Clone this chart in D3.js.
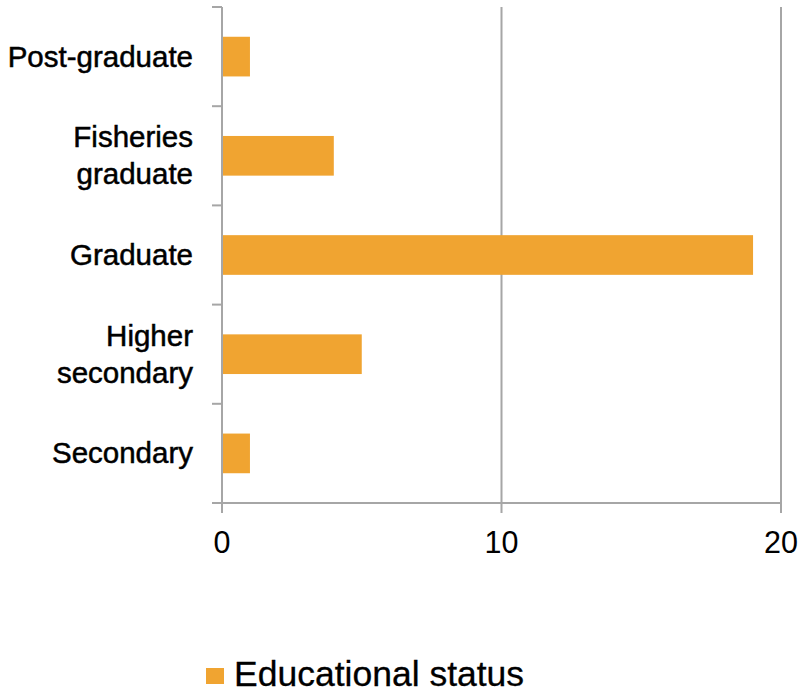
<!DOCTYPE html>
<html><head><meta charset="utf-8">
<script src="https://cdn.jsdelivr.net/npm/d3@7"></script>
<style>body{margin:0;background:#fff}</style>
</head><body>
<svg id="c" width="803" height="693"></svg>
<script>
const categories = ["Post-graduate", "Fisheries graduate", "Graduate", "Higher secondary", "Secondary"];
const categoryLines = [["Post-graduate"], ["Fisheries", "graduate"], ["Graduate"], ["Higher", "secondary"], ["Secondary"]];
const values = [1, 4, 19, 5, 1];
const xTicks = [0, 10, 20];
const seriesName = "Educational status";

(function () {
const barColor = "#F0A431";
const gridColor = "#a6a6a6";
const font = "Liberation Sans, Arial, sans-serif";

const svg = d3.select("#c");
const mLeft = 222, mRight = 781, mTop = 7, mBottom = 503;
const x = d3.scaleLinear().domain([0, 20]).range([mLeft, mRight]);
const y = d3.scaleBand().domain(categories).range([mTop, mBottom]).paddingInner(0.6).paddingOuter(0.3);
const yTicks = d3.scaleBand().domain(categories).range([mTop, mBottom]);

// gridlines
svg.append("g").selectAll("line").data(xTicks.filter(d => d > 0)).join("line")
  .attr("x1", d => x(d)).attr("x2", d => x(d)).attr("y1", mTop).attr("y2", mBottom + 10)
  .attr("stroke", gridColor).attr("stroke-width", 2);

// bars
svg.append("g").selectAll("rect").data(values).join("rect")
  .attr("x", x(0)).attr("y", (d, i) => y(categories[i]))
  .attr("width", d => x(d) - x(0)).attr("height", y.bandwidth())
  .attr("fill", barColor);

// axes lines
svg.append("line").attr("x1", mLeft).attr("x2", mLeft).attr("y1", mTop).attr("y2", mBottom + 10)
  .attr("stroke", gridColor).attr("stroke-width", 2);
svg.append("line").attr("x1", mLeft - 10).attr("x2", mRight).attr("y1", mBottom).attr("y2", mBottom)
  .attr("stroke", gridColor).attr("stroke-width", 2);
const bounds = categories.map(c => yTicks(c)).concat([mBottom]);
svg.append("g").selectAll("line").data(bounds).join("line")
  .attr("x1", mLeft - 10).attr("x2", mLeft).attr("y1", d => d).attr("y2", d => d)
  .attr("stroke", gridColor).attr("stroke-width", 2);

// x tick labels
svg.append("g").selectAll("text").data(xTicks).join("text")
  .attr("x", d => x(d)).attr("y", 553).attr("text-anchor", "middle")
  .attr("font-family", font).attr("font-size", 30.5).attr("fill", "#000")
  .text(d => d);

// y labels
categories.forEach((c, i) => {
  const lines = categoryLines[i];
  const cy = yTicks(c) + yTicks.bandwidth() / 2;
  const lh = 37;
  const t = svg.append("text").attr("text-anchor", "end")
    .attr("font-family", font).attr("font-size", 29.5).attr("fill", "#000")
    .attr("stroke", "#000").attr("stroke-width", 0.5);
  lines.forEach((l, j) => {
    t.append("tspan").attr("x", 193)
      .attr("y", cy + 10 + (j - (lines.length - 1) / 2) * lh).text(l);
  });
});

// legend
svg.append("rect").attr("x", 206).attr("y", 668).attr("width", 18).attr("height", 16).attr("fill", barColor);
svg.append("text").attr("x", 234).attr("y", 686).attr("font-family", font).attr("font-size", 35.5)
  .attr("fill", "#000").attr("stroke", "#000").attr("stroke-width", 0.3).text(seriesName);
})();
</script>
</body></html>
